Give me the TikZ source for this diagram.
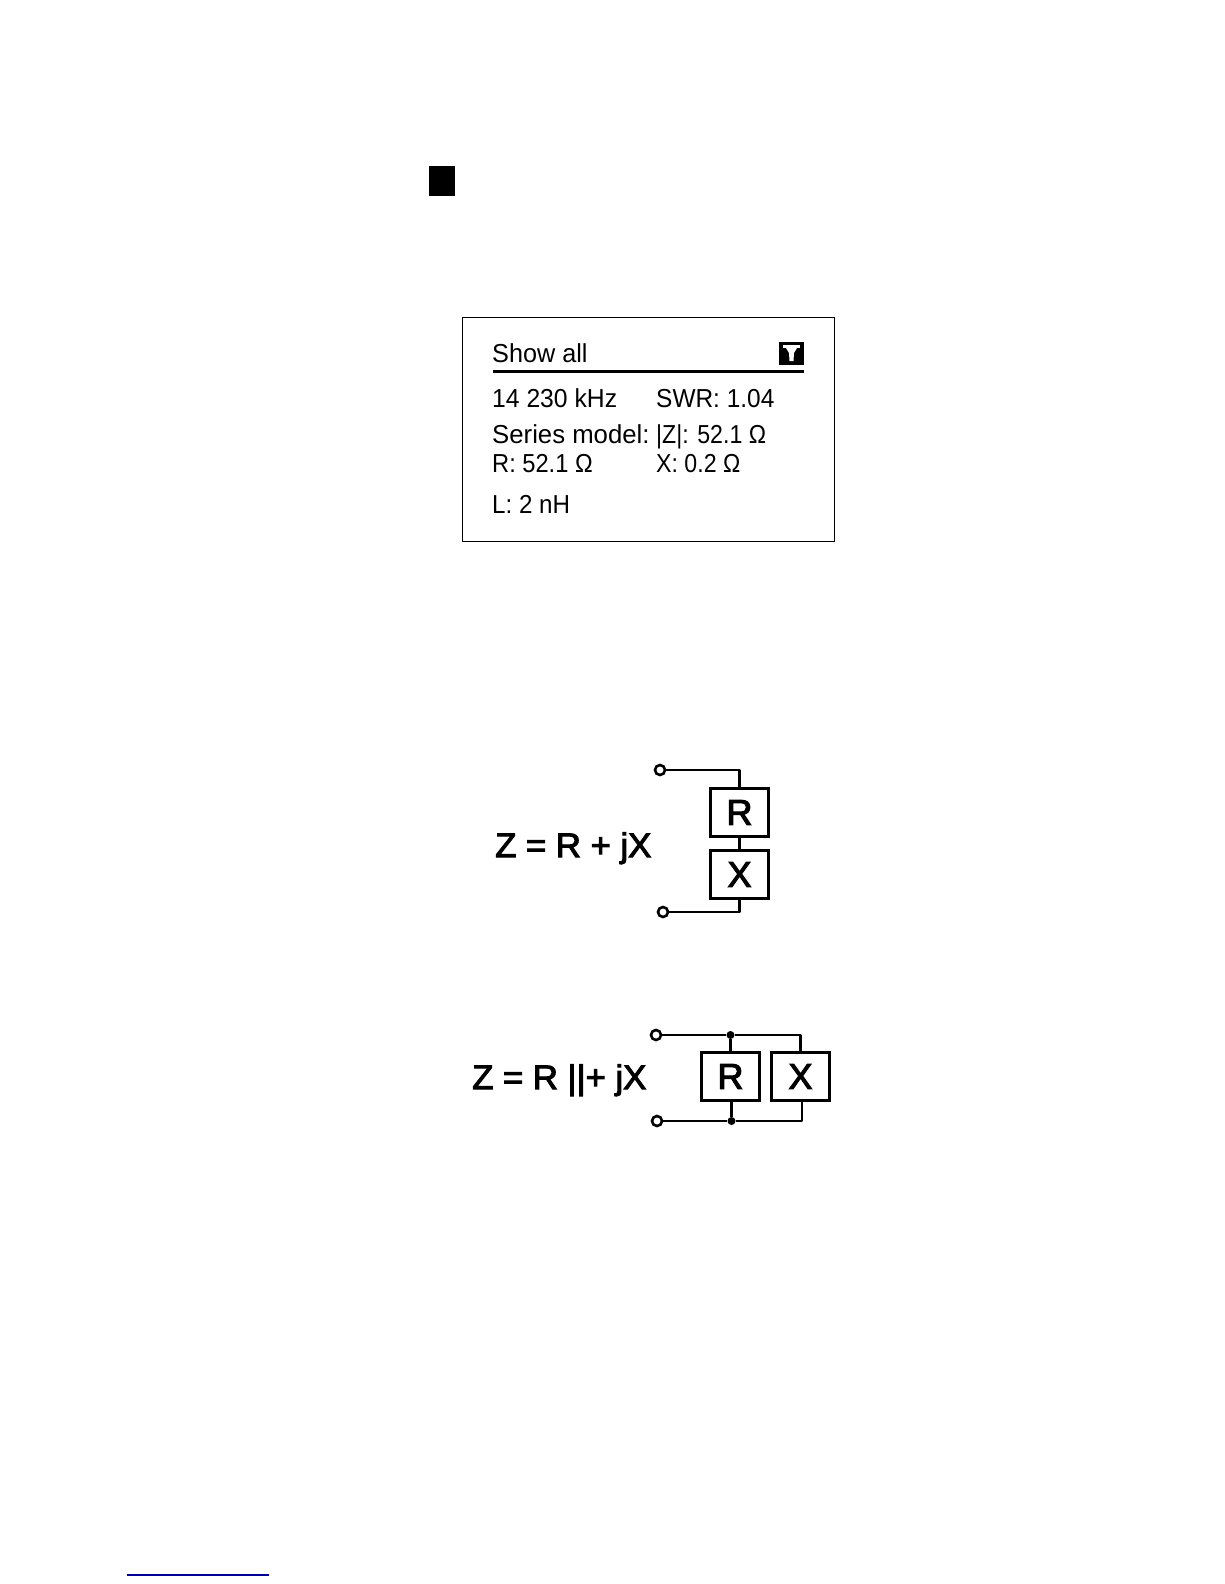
\documentclass[tikz,border=0pt]{standalone}
\usepackage{fontspec}
\setmainfont{Liberation Sans}
\newfontfamily\heavyfont[FakeBold=3,FakeStretch=1.02]{Liberation Sans}
\newfontfamily\elemfont[FakeBold=3]{Liberation Sans}
\definecolor{linkblue}{RGB}{0,0,150}
\newcommand{\lcdw}[2]{{\addfontfeatures{FakeStretch=#1}#2}}
\tikzset{
  lcd/.style={anchor=base west,inner sep=0pt,font=\fontsize{26}{26}\selectfont},
  formula/.style={anchor=base west,inner sep=0pt,font=\heavyfont\fontsize{34}{34}\selectfont,text=black},
  elem/.style={draw,line width=2.6pt,minimum width=58pt,minimum height=48pt,inner sep=0pt,font=\elemfont\fontsize{36}{36}\selectfont},
  wire/.style={line width=2.6pt,line join=round},
  term/.style={circle,draw,fill=white,line width=2.6pt,minimum size=10pt,inner sep=0pt},
  junc/.style={circle,fill=black,minimum size=8pt,inner sep=0pt}
}
\begin{document}
\begin{tikzpicture}[x=1pt,y=-1pt]
\useasboundingbox (0,0) rectangle (1224,1584);
\fill[white] (0,0) rectangle (1224,1584);
% black square
\node[fill=black,minimum width=26pt,minimum height=30pt,inner sep=0pt] (sq) at (442,181) {};
% LCD screen
\node[draw,line width=1.2pt,minimum width=372pt,minimum height=224pt,inner sep=0pt] (screen) at (648.5,429.5) {};
\node[lcd] (t1) at (492,362) {\lcdw{0.97}{Show all}};
\coordinate (ruleL) at (493,371);
\coordinate (ruleR) at (804,371);
\draw[line width=3pt] (ruleL) -- (ruleR);
\node[fill=black,minimum width=25pt,minimum height=23pt,inner sep=0pt] (icon) at (791.5,353.5) {};
\fill[white] (783,345) rectangle (800,348);
\fill[white] (786,348) -- (797,348) -- (794,353) -- (793.5,361) -- (789.5,361) -- (789,353) -- cycle;
\node[lcd] (t2) at (492,407) {\lcdw{0.95}{14 230 kHz}};
\node[lcd] (t3) at (656,407) {\lcdw{0.94}{SWR: 1.04}};
\node[lcd] (t4) at (492,443) {\lcdw{0.99}{Series model:}};
\node[lcd] (t5) at (656,443) {\lcdw{0.89}{|Z|: 52.1 Ω}};
\node[lcd] (t6) at (492,472) {\lcdw{0.91}{R: 52.1 Ω}};
\node[lcd] (t7) at (656,472) {\lcdw{0.89}{X: 0.2 Ω}};
\node[lcd] (t8) at (492,513) {\lcdw{0.93}{L: 2 nH}};
% series circuit
\node[formula] (f1) at (495,857) {Z = R + jX};
\node[elem] (R1) at (739.5,812.5) {R};
\node[elem] (X1) at (739.5,874.5) {X};
\node[term] (a1) at (660,770) {};
\node[term] (b1) at (663,912) {};
\draw[wire] (a1) -- (R1.north |- a1) -- (R1.north);
\draw[wire] (R1) -- (X1);
\draw[wire] (X1.south) -- (X1.south |- b1) -- (b1);
% parallel circuit
\node[formula] (f2) at (472,1089) {Z = R ||+ jX};
\node[elem] (R2) at (730.5,1076.5) {R};
\node[elem] (X2) at (800.5,1076.5) {X};
\node[term] (a2) at (656,1035) {};
\node[term] (b2) at (657,1121) {};
\node[junc] (j1) at (730.5,1035) {};
\node[junc] (j2) at (731.5,1121) {};
\draw[wire] (a2) -- (j1) -- (X2.north |- j1) -- (X2.north);
\draw[wire] (j1) -- (R2.north);
\draw[wire] (b2) -- (j2) -- (802,1121) -- (802,1101);
\draw[wire] (j2) -- (731.5,1101);
% link underline
\coordinate (linkL) at (127,1575);
\coordinate (linkR) at (269,1575);
\draw[linkblue,line width=1.3pt] (linkL) -- (linkR);
\end{tikzpicture}
\end{document}
